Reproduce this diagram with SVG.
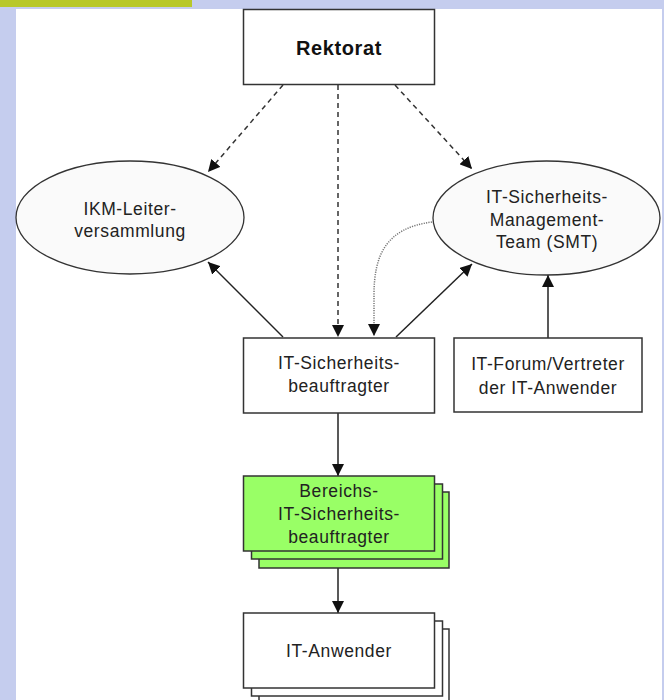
<svg xmlns="http://www.w3.org/2000/svg" width="664" height="700" viewBox="0 0 664 700">
<defs>
<style>
.box{fill:#ffffff;stroke:#333333;stroke-width:1.5}
.green{fill:#99ff66;stroke:#333333;stroke-width:1.5}
.ell{fill:#fafafa;stroke:#333333;stroke-width:1.3}
.t{font-family:"Liberation Sans",Arial,sans-serif;font-size:17.5px;letter-spacing:0.6px;fill:#222222;text-anchor:middle}
.b{font-weight:bold;font-size:20px;letter-spacing:0.6px;fill:#111111}
.solid{fill:none;stroke:#222222;stroke-width:1.5}
.dash{fill:none;stroke:#333333;stroke-width:1.5;stroke-dasharray:5,4}
.dot{fill:none;stroke:#777777;stroke-width:1.5;stroke-dasharray:1.2,1.2}
</style>
<marker id="ah" viewBox="0 0 10 10" refX="10" refY="5" markerWidth="12" markerHeight="12" markerUnits="userSpaceOnUse" orient="auto">
<path d="M0,0 L10,5 L0,10 Z" fill="#111111"/>
</marker>
</defs>
<rect x="0" y="0" width="664" height="700" fill="#c5cdee"/>
<rect x="0" y="0" width="192" height="7" fill="#b8c82a"/>
<rect x="16" y="9" width="646" height="691" fill="#ffffff"/>

<g id="connectors">
<line class="dash" x1="283" y1="85" x2="208" y2="172" marker-end="url(#ah)"/>
<line class="dash" x1="338" y1="85" x2="338" y2="337" marker-end="url(#ah)"/>
<line class="dash" x1="395" y1="85" x2="472" y2="169" marker-end="url(#ah)"/>
<line class="solid" x1="283" y1="337" x2="208" y2="262" marker-end="url(#ah)"/>
<line class="solid" x1="396" y1="337" x2="472" y2="264" marker-end="url(#ah)"/>
<path class="dot" d="M432,222 C386,228 374,255 374,295 L374,336" marker-end="url(#ah)"/>
<line class="solid" x1="548" y1="338" x2="548" y2="275" marker-end="url(#ah)"/>
<line class="solid" x1="338" y1="413" x2="338" y2="476" marker-end="url(#ah)"/>
<line class="solid" x1="338" y1="551" x2="338" y2="613" marker-end="url(#ah)"/>
</g>

<g id="rektorat">
<rect class="box" x="243.5" y="9.5" width="191" height="75"/>
<text class="t b" x="339" y="55">Rektorat</text>
</g>

<g id="ikm">
<ellipse class="ell" cx="130" cy="217.5" rx="114" ry="56.5"/>
<text class="t" x="130" y="215">IKM-Leiter-</text>
<text class="t" x="130" y="237">versammlung</text>
</g>

<g id="smt">
<ellipse class="ell" cx="546.5" cy="218" rx="113.5" ry="57"/>
<text class="t" x="547" y="203">IT-Sicherheits-</text>
<text class="t" x="547" y="226">Management-</text>
<text class="t" x="547" y="248">Team (SMT)</text>
</g>

<g id="itsb">
<rect class="box" x="243.5" y="338" width="191" height="75"/>
<text class="t" x="339" y="369">IT-Sicherheits-</text>
<text class="t" x="339" y="392">beauftragter</text>
</g>

<g id="forum">
<rect class="box" x="454" y="338" width="188" height="74"/>
<text class="t" x="548" y="370">IT-Forum/Vertreter</text>
<text class="t" x="548" y="394">der IT-Anwender</text>
</g>

<g id="bereichs">
<rect class="green" x="259" y="492" width="190" height="76"/>
<rect class="green" x="251.5" y="484" width="191" height="75"/>
<rect class="green" x="243.5" y="476" width="191" height="75"/>
<text class="t" x="339" y="497">Bereichs-</text>
<text class="t" x="339" y="520">IT-Sicherheits-</text>
<text class="t" x="339" y="543">beauftragter</text>
</g>

<g id="anwender">
<rect class="box" x="259" y="629" width="190" height="76"/>
<rect class="box" x="251.5" y="621" width="191" height="75"/>
<rect class="box" x="243.5" y="613" width="191" height="75"/>
<text class="t" x="339" y="657">IT-Anwender</text>
</g>
</svg>
